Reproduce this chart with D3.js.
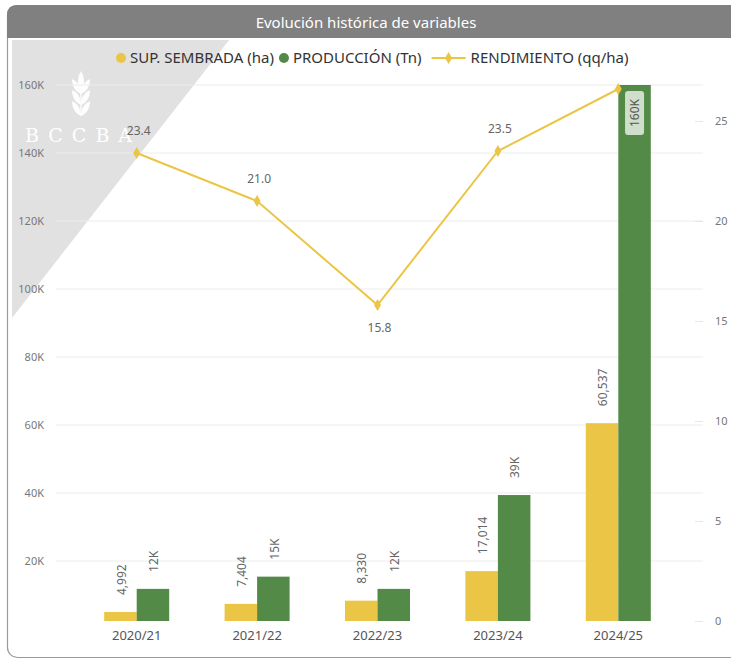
<!DOCTYPE html>
<html><head><meta charset="utf-8">
<script src="https://cdn.jsdelivr.net/npm/d3@7"></script>
<style>
body{margin:0;background:#fff;}
svg{font-family:"Segoe UI","Noto Sans","Open Sans",sans-serif;display:block}
</style></head>
<body><svg id="chart" width="731" height="660"></svg>
<script>
const categories = ["2020/21","2021/22","2022/23","2023/24","2024/25"];
const supSembrada = [4992, 7404, 8330, 17014, 60537];
const produccion = [11800, 15400, 11800, 39400, 160000];
const rendimiento = [23.4, 21.0, 15.8, 23.5, 26.6];
const leftTicks = [20000, 40000, 60000, 80000, 100000, 120000, 140000, 160000];
const rightTicks = [0, 5, 10, 15, 20, 25];
const seriesNames = ["SUP. SEMBRADA (ha)", "PRODUCCIÓN (Tn)", "RENDIMIENTO (qq/ha)"];
const title = "Evolución histórica de variables";

const colYellow = "#ebc545", colGreen = "#548a48", colLine = "#ebc545";
const svg = d3.select("#chart");
const plot = {left: 56, right: 697, top: 85, bottom: 621};

// panel
svg.append("rect").attr("x",7.5).attr("y",5.5).attr("width",760).attr("height",652)
  .attr("rx",10).attr("fill","#fff").attr("stroke","#9a9a9a").attr("stroke-width",1.2);
svg.append("path").attr("d","M7,38 L7,15 Q7,5 17,5 L740,5 L740,38 Z").attr("fill","#808080");
svg.append("text").attr("x",366).attr("y",28).attr("text-anchor","middle")
  .attr("fill","#fff").attr("font-size",15).text(title);

// watermark
svg.append("path").attr("d","M12,40 L229,40 L12,318 Z").attr("fill","#e2e1e1");
const wm = svg.append("g").attr("fill","#ffffff").attr("opacity",0.95);
wm.append("path").attr("d","M81,71 C85,77 85,86 81,92 C77,86 77,77 81,71 Z");
[84, 95, 106].forEach(yy=>{
  wm.append("path").attr("d",`M81,${yy+10} C81,${yy+2} 85,${yy-3} 90,${yy-5} C90,${yy+3} 86,${yy+8} 81,${yy+10} Z`);
  wm.append("path").attr("d",`M81,${yy+10} C81,${yy+2} 77,${yy-3} 72,${yy-5} C72,${yy+3} 76,${yy+8} 81,${yy+10} Z`);
});
wm.append("rect").attr("x",80.3).attr("y",90).attr("width",1.4).attr("height",26);
svg.append("text").attr("x",25).attr("y",142).attr("fill","#fff").attr("font-size",19)
  .attr("font-family","'DejaVu Serif','Liberation Serif',serif").attr("letter-spacing",9)
  .text("BCCBA");

// scales
const x = d3.scaleBand().domain(categories).range([76.5, 678.5]).paddingInner(0.46).paddingOuter(0.23);
const xs = d3.scaleBand().domain([0,1]).range([0, x.bandwidth()]);
const yL = d3.scaleLinear().domain([0,160000]).range([629, plot.top]);
const yR = d3.scaleLinear().domain([0,26.8]).range([plot.bottom, plot.top]);

// gridlines
svg.append("g").selectAll("line").data(leftTicks).join("line")
  .attr("x1",plot.left).attr("x2",703).attr("y1",d=>yL(d)).attr("y2",d=>yL(d))
  .attr("stroke","#ececec").attr("stroke-width",1);

// left axis
const axL = svg.append("g").attr("transform",`translate(${plot.left},0)`)
  .call(d3.axisLeft(yL).tickValues(leftTicks).tickSize(0).tickPadding(12).tickFormat(d=>d/1000+"K"));
axL.select(".domain").remove();
axL.selectAll("text").attr("fill","#777").attr("font-size",11).attr("font-family","'Segoe UI','Noto Sans',sans-serif");

// right axis
const axR = svg.append("g").attr("transform",`translate(695,0)`)
  .call(d3.axisRight(yR).tickValues(rightTicks).tickSize(8).tickPadding(12).tickFormat(d3.format("d")));
axR.select(".domain").remove();
axR.selectAll("line").attr("stroke","#e6e6e6");
axR.selectAll("text").attr("fill","#777").attr("font-size",11).attr("font-family","'Segoe UI','Noto Sans',sans-serif");

// x axis
const axX = svg.append("g").attr("transform",`translate(0,${plot.bottom})`)
  .call(d3.axisBottom(x).tickSize(0).tickPadding(10));
axX.select(".domain").remove();
axX.selectAll("text").attr("fill","#555").attr("font-size",13).attr("font-family","'Segoe UI','Noto Sans',sans-serif");

// bars
svg.append("defs").append("clipPath").attr("id","clip").append("rect")
  .attr("x",plot.left).attr("y",plot.top).attr("width",plot.right-plot.left).attr("height",plot.bottom-plot.top);
const bars = svg.append("g").attr("clip-path","url(#clip)");
const series = [
  {vals: supSembrada, color: colYellow, fmt: d3.format(",")},
  {vals: produccion, color: colGreen, fmt: v=>Math.round(v/1000)+"K"}
];
const labels = svg.append("g");
series.forEach((s,si)=>{
  categories.forEach((c,i)=>{
    const v = s.vals[i];
    const bx = x(c)+xs(si), bw = xs.bandwidth();
    const top = Math.max(yL(v), plot.top);
    bars.append("rect").attr("x",bx).attr("y",top).attr("width",bw)
      .attr("height",yL(0)-top).attr("fill",s.color);
    const txt = s.fmt(v);
    const cx = bx + bw/2;
    if (top - 17 - 40 < plot.top) {
      const g = labels.append("g").attr("transform",`translate(${cx},${top+6}) rotate(-90)`);
      g.append("rect").attr("x",-44).attr("y",-9.5).attr("width",44).attr("height",19).attr("rx",3)
        .attr("fill","#cfdfcc");
      g.append("text").attr("x",-22).attr("y",0).attr("dy","0.35em").attr("text-anchor","middle")
        .attr("fill","#555").attr("font-size",12).text(txt);
    } else {
      labels.append("text").attr("transform",`translate(${cx+1},${top-17}) rotate(-90)`)
        .attr("dy","0.35em").attr("text-anchor","start").attr("fill","#666").attr("font-size",12).text(txt);
    }
  });
});

// line
const pts = categories.map((c,i)=>({c, v: rendimiento[i], x: x(c)+x.bandwidth()/2, y: yR(rendimiento[i])}));
svg.append("path").datum(pts).attr("fill","none").attr("stroke",colLine).attr("stroke-width",2)
  .attr("d", d3.line().x(d=>d.x).y(d=>d.y));
svg.append("g").selectAll("path").data(pts).join("path")
  .attr("transform",d=>`translate(${d.x},${d.y})`)
  .attr("d",d3.symbol(d3.symbolDiamond,42)).attr("fill",colLine);
pts.forEach((p,i)=>{
  const prev = i>0 ? pts[i-1].v : Infinity, next = i<pts.length-1 ? pts[i+1].v : Infinity;
  const below = p.v < prev && p.v < next;
  const ly = below ? p.y + 23 : p.y - 22;
  if (ly - 8 < plot.top) return;
  svg.append("text").attr("x",p.x+2).attr("y",ly).attr("dy","0.35em").attr("text-anchor","middle")
    .attr("fill","#666").attr("font-size",12).text(d3.format(".1f")(p.v));
});

// legend
const lg = svg.append("g").attr("font-size",15).attr("fill","#333");
let lx = 121; const ly = 58;
[0,1].forEach(i=>{
  lg.append("circle").attr("cx",lx).attr("cy",ly).attr("r",5).attr("fill",i===0?colYellow:colGreen);
  const t = lg.append("text").attr("x",lx+9).attr("y",ly).attr("dy","0.35em").attr("fill","#333").text(seriesNames[i]);
  lx = lx + 9 + t.node().getComputedTextLength() + 10;
});
lg.append("line").attr("x1",lx).attr("x2",lx+34).attr("y1",ly).attr("y2",ly).attr("stroke",colLine).attr("stroke-width",2);
lg.append("path").attr("transform",`translate(${lx+17},${ly})`).attr("d",d3.symbol(d3.symbolDiamond,42)).attr("fill",colLine);
lg.append("text").attr("x",lx+39).attr("y",ly).attr("dy","0.35em").attr("fill","#333").text(seriesNames[2]);
</script></body></html>
